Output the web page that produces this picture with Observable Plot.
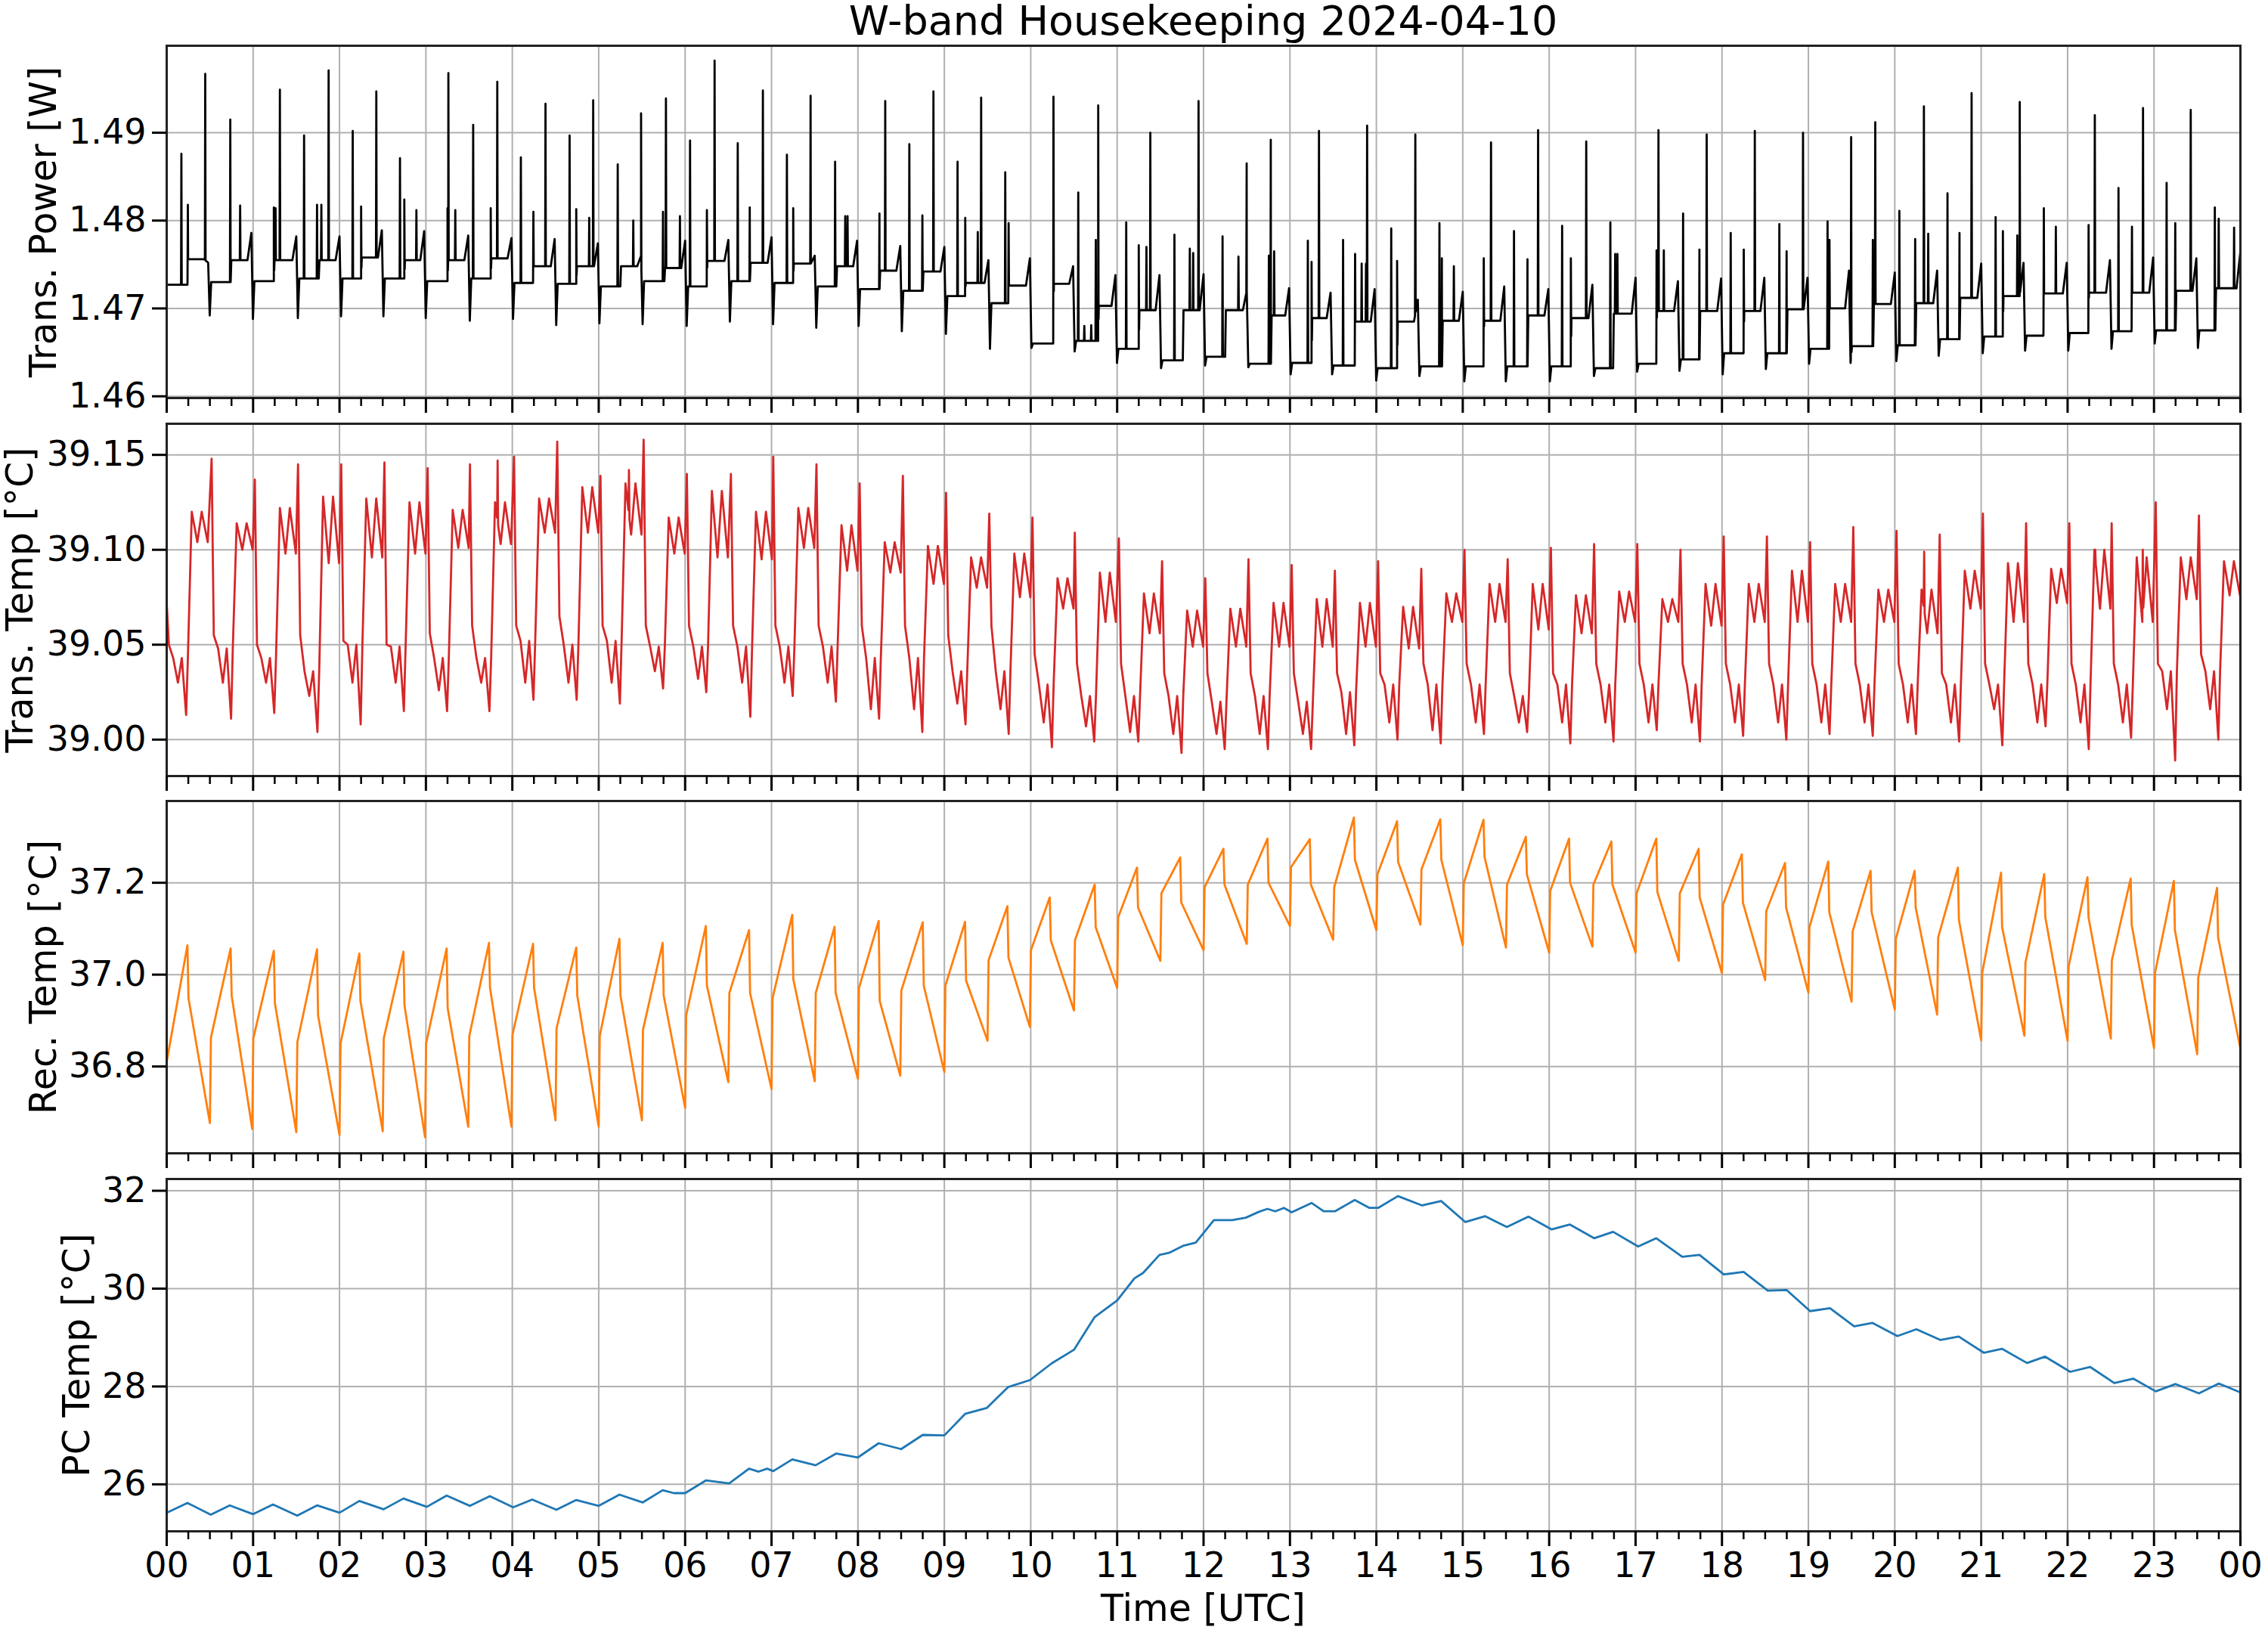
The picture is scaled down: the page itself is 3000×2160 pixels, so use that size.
<!DOCTYPE html>
<html>
<head>
<meta charset="utf-8">
<script src="https://cdn.jsdelivr.net/npm/d3@7"></script>
<script src="https://cdn.jsdelivr.net/npm/@observablehq/plot@0.6"></script>
<style>
  html, body { margin: 0; padding: 0; background: #fff; }
  #chart { position: relative; width: 3000px; height: 2160px; background: #fff;
           font-family: "DejaVu Sans", sans-serif; color: #000; }
  .txt { position: absolute; white-space: nowrap; line-height: 1; text-align: center; }
</style>
</head>
<body>
<div id="chart"></div>
<script>
// ---------------- DATA ----------------
const titleText = "W-band Housekeeping 2024-04-10";
const xLabel = "Time [UTC]";
const hourLabels = ["00","01","02","03","04","05","06","07","08","09","10","11",
                    "12","13","14","15","16","17","18","19","20","21","22","23","00"];

// Panel 1 - Trans. Power [W]
// rows: [jump to high level (h), high level, end of high phase (h), level at end, dip after drop, low level]
const powerStart = 1.4727;
const powerCycles = [
  [0.24,1.4756,0.48,1.4752,1.4692,1.4730],[0.74,1.4755,0.98,1.4786,1.4688,1.4731],
  [1.24,1.4755,1.50,1.4782,1.4689,1.4734],[1.76,1.4755,2.00,1.4782,1.4691,1.4734],
  [2.25,1.4758,2.49,1.4789,1.4691,1.4734],[2.75,1.4755,2.98,1.4788,1.4689,1.4731],
  [3.25,1.4755,3.49,1.4783,1.4686,1.4734],[3.75,1.4757,3.99,1.4780,1.4688,1.4729],
  [4.24,1.4748,4.49,1.4779,1.4681,1.4728],[4.74,1.4748,4.99,1.4774,1.4683,1.4725],
  [5.25,1.4748,5.49,1.4760,1.4682,1.4731],[5.76,1.4746,6.00,1.4777,1.4680,1.4725],
  [6.25,1.4754,6.50,1.4778,1.4685,1.4731],[6.75,1.4752,7.00,1.4781,1.4682,1.4729],
  [7.25,1.4751,7.50,1.4760,1.4678,1.4725],[7.75,1.4748,7.99,1.4777,1.4680,1.4722],
  [8.25,1.4743,8.49,1.4771,1.4674,1.4720],[8.75,1.4742,9.00,1.4770,1.4671,1.4714],
  [9.24,1.4729,9.51,1.4755,1.4654,1.4706],[9.74,1.4726,9.99,1.4757,1.4655,1.4660],
  [10.26,1.4728,10.49,1.4748,1.4651,1.4663],[10.78,1.4703,10.98,1.4738,1.4638,1.4654],
  [11.25,1.4698,11.49,1.4738,1.4632,1.4641],[11.76,1.4698,12.00,1.4739,1.4635,1.4645],
  [12.25,1.4698,12.50,1.4720,1.4633,1.4637],[12.78,1.4692,12.99,1.4723,1.4625,1.4638],
  [13.25,1.4689,13.47,1.4718,1.4625,1.4635],[13.75,1.4685,13.98,1.4722,1.4618,1.4632],
  [14.24,1.4685,14.48,1.4710,1.4623,1.4634],[14.76,1.4686,15.00,1.4719,1.4617,1.4634],
  [15.24,1.4686,15.48,1.4725,1.4617,1.4634],[15.75,1.4692,15.99,1.4722,1.4617,1.4634],
  [16.25,1.4689,16.50,1.4727,1.4623,1.4632],[16.74,1.4694,17.00,1.4735,1.4628,1.4637],
  [17.24,1.4697,17.49,1.4731,1.4629,1.4642],[17.74,1.4697,17.99,1.4734,1.4625,1.4649],
  [18.25,1.4697,18.49,1.4735,1.4631,1.4649],[18.75,1.4699,18.99,1.4735,1.4637,1.4654],
  [19.24,1.4700,19.47,1.4743,1.4638,1.4657],[19.75,1.4705,20.00,1.4741,1.4640,1.4658],
  [20.24,1.4706,20.49,1.4743,1.4646,1.4665],[20.75,1.4712,21.00,1.4751,1.4649,1.4668],
  [21.25,1.4714,21.49,1.4752,1.4652,1.4669],[21.72,1.4717,21.99,1.4752,1.4652,1.4672],
  [22.24,1.4718,22.49,1.4755,1.4654,1.4674],[22.74,1.4718,22.99,1.4758,1.4660,1.4675],
  [23.25,1.4720,23.49,1.4757,1.4655,1.4675],[23.71,1.4723,24.00,1.4765,null,null]
];
// single-sample spikes: [time (h), spike top]
const powerSpikes = [
  [0.17,1.4876],[0.245,1.4818],[0.446,1.4967],[0.736,1.4915],[0.85,1.4817],
  [1.24,1.4815],[1.26,1.4814],[1.31,1.4949],[1.59,1.4897],[1.74,1.4818],[1.79,1.4818],[1.874,1.4971],
  [2.153,1.4902],[2.25,1.4816],[2.426,1.4947],[2.70,1.4871],[2.75,1.4824],[2.89,1.4812],
  [3.25,1.4814],[3.26,1.4968],[3.34,1.4812],[3.547,1.4909],[3.75,1.4814],[3.826,1.4958],
  [4.099,1.4872],[4.244,1.4810],[4.384,1.4933],[4.663,1.4897],[4.74,1.4813],[4.89,1.4803],[4.936,1.4937],
  [5.22,1.4864],[5.40,1.4800],[5.49,1.4922],[5.744,1.4810],[5.778,1.4939],[5.94,1.4805],
  [6.057,1.4891],[6.252,1.4812],[6.341,1.4982],[6.609,1.4888],[6.748,1.4815],[6.90,1.4948],
  [7.178,1.4875],[7.251,1.4814],[7.452,1.4942],[7.736,1.4867],[7.853,1.4805],[7.88,1.4805],
  [8.249,1.4808],[8.316,1.4936],[8.595,1.4887],[8.746,1.4806],[8.874,1.4947],
  [9.153,1.4867],[9.242,1.4803],[9.387,1.4787],[9.426,1.4940],[9.705,1.4855],[9.744,1.4797],
  [10.263,1.4941],[10.55,1.4832],[10.62,1.4680],[10.70,1.4681],[10.753,1.4778],[10.781,1.4931],
  [11.105,1.4798],[11.25,1.4772],[11.339,1.4770],[11.384,1.4900],
  [11.663,1.4784],[11.841,1.4768],[11.88,1.4763],[11.942,1.4936],
  [12.22,1.4782],[12.404,1.4759],[12.499,1.4865],[12.756,1.4760],[12.778,1.4892],[12.817,1.4765],
  [13.207,1.4777],[13.25,1.4753],[13.336,1.4902],[13.615,1.4778],[13.754,1.4762],[13.83,1.4751],[13.88,1.4751],[13.893,1.4908],
  [14.172,1.4791],[14.24,1.4754],[14.451,1.4898],[14.73,1.4797],[14.758,1.4757],[14.897,1.4748],
  [15.243,1.4757],[15.327,1.4889],[15.593,1.4788],[15.749,1.4756],[15.872,1.4903],
  [16.15,1.4794],[16.251,1.4757],[16.429,1.4890],[16.708,1.4798],[16.764,1.4762],[16.79,1.4762],
  [17.243,1.4766],[17.265,1.4903],[17.327,1.4766],[17.55,1.4808],[17.739,1.4767],[17.823,1.4898],
  [18.101,1.4786],[18.252,1.4767],[18.38,1.4902],[18.664,1.4796],[18.748,1.4765],[18.938,1.4900],
  [19.222,1.4799],[19.244,1.4778],[19.495,1.4895],[19.746,1.4778],[19.774,1.4912],[20.053,1.4811],
  [20.236,1.4779],[20.337,1.4930],[20.387,1.4785],[20.61,1.4831],[20.749,1.4786],[20.889,1.4945],
  [21.167,1.4804],[21.251,1.4788],[21.418,1.4783],[21.446,1.4935],[21.725,1.4814],[21.864,1.4793],
  [22.243,1.4795],[22.315,1.4920],[22.589,1.4837],[22.745,1.4793],[22.873,1.4928],
  [23.146,1.4843],[23.246,1.4797],[23.425,1.4926],[23.704,1.4815],[23.749,1.4802],[23.927,1.4792]
];

// Panel 2 - Trans. Temp [°C]
// rows: [spike time, spike top, after drop, low upper, low lower, dip, high lower, high upper]
const transCycles = [
  [0.00,39.072,39.050,39.043,39.030,39.013,39.104,39.120],
  [0.52,39.148,39.055,39.048,39.030,39.011,39.100,39.114],
  [1.02,39.137,39.050,39.043,39.030,39.014,39.098,39.122],
  [1.52,39.145,39.055,39.036,39.023,39.004,39.093,39.128],
  [2.02,39.145,39.052,39.050,39.030,39.008,39.096,39.127],
  [2.52,39.146,39.050,39.049,39.030,39.015,39.098,39.125],
  [3.02,39.143,39.056,39.043,39.026,39.015,39.101,39.121],
  [3.51,39.145,39.060,39.043,39.030,39.015,39.103,39.125],
  [4.02,39.149,39.060,39.052,39.030,39.021,39.109,39.127],
  [4.52,39.157,39.065,39.050,39.030,39.021,39.109,39.133],
  [5.02,39.139,39.060,39.052,39.030,39.019,39.108,39.135],
  [5.52,39.158,39.060,39.049,39.036,39.027,39.098,39.117],
  [6.02,39.140,39.060,39.049,39.032,39.025,39.096,39.131],
  [6.53,39.140,39.060,39.049,39.030,39.012,39.095,39.120],
  [7.02,39.149,39.060,39.049,39.030,39.023,39.101,39.122],
  [7.52,39.145,39.060,39.049,39.030,39.020,39.089,39.113],
  [8.02,39.135,39.060,39.043,39.016,39.011,39.088,39.104],
  [8.52,39.139,39.060,39.043,39.016,39.004,39.082,39.102],
  [9.02,39.130,39.055,39.036,39.019,39.008,39.080,39.096],
  [9.52,39.119,39.060,39.036,39.016,39.003,39.075,39.098],
  [10.02,39.117,39.045,39.029,39.009,38.996,39.069,39.085],
  [10.51,39.109,39.040,39.023,39.007,38.999,39.062,39.088],
  [11.02,39.106,39.040,39.023,39.004,38.999,39.056,39.077],
  [11.52,39.094,39.035,39.023,39.003,38.993,39.049,39.068],
  [12.02,39.085,39.035,39.020,39.003,38.995,39.049,39.069],
  [12.52,39.095,39.035,39.023,39.003,38.995,39.049,39.072],
  [13.02,39.092,39.035,39.020,39.003,38.995,39.049,39.074],
  [13.52,39.089,39.035,39.025,39.003,38.997,39.049,39.072],
  [14.02,39.094,39.035,39.029,39.009,39.000,39.048,39.070],
  [14.52,39.090,39.040,39.029,39.005,38.998,39.062,39.077],
  [15.02,39.100,39.040,39.029,39.009,39.003,39.062,39.082],
  [15.52,39.095,39.035,39.023,39.009,39.004,39.058,39.082],
  [16.02,39.101,39.035,39.029,39.009,38.998,39.056,39.076],
  [16.52,39.103,39.040,39.029,39.009,38.999,39.062,39.078],
  [17.02,39.103,39.040,39.029,39.009,39.005,39.062,39.074],
  [17.52,39.100,39.040,39.029,39.009,38.999,39.060,39.082],
  [18.02,39.107,39.040,39.029,39.009,39.002,39.062,39.082],
  [18.52,39.107,39.040,39.029,39.009,39.000,39.062,39.089],
  [19.02,39.104,39.040,39.029,39.009,39.003,39.062,39.082],
  [19.52,39.112,39.040,39.029,39.009,39.002,39.062,39.079],
  [20.02,39.110,39.040,39.029,39.009,39.003,39.056,39.079],
  [20.52,39.108,39.035,39.029,39.009,38.999,39.069,39.089],
  [21.02,39.119,39.040,39.029,39.016,38.997,39.062,39.093],
  [21.52,39.114,39.040,39.029,39.009,39.007,39.072,39.090],
  [22.02,39.114,39.040,39.029,39.009,38.995,39.069,39.100],
  [22.51,39.114,39.040,39.029,39.009,39.001,39.062,39.096],
  [23.02,39.125,39.040,39.036,39.016,38.989,39.074,39.096],
  [23.52,39.118,39.045,39.036,39.016,39.000,39.076,39.094]
];
const transEnd = [24.0, 39.080];
const transSpikes = [[3.83,39.147],[5.35,39.142],[20.34,39.099],[22.32,39.100],[22.87,39.100]];

// Panel 3 - Rec. Temp [°C]
// rows: [peak time, peak, after drop, minimum time, minimum, after jump]
const recStart = [0.0, 36.81];
const recCycles = [
  [0.24,37.064,36.949,0.50,36.677,36.863],[0.74,37.057,36.954,0.99,36.664,36.861],
  [1.24,37.052,36.938,1.50,36.657,36.853],[1.74,37.055,36.911,2.00,36.651,36.850],
  [2.23,37.046,36.943,2.50,36.659,36.861],[2.74,37.050,36.933,2.99,36.646,36.850],
  [3.24,37.057,36.927,3.49,36.669,36.866],[3.73,37.069,36.971,3.99,36.669,36.869],
  [4.24,37.067,36.971,4.50,36.683,36.883],[4.74,37.059,36.954,5.00,36.669,36.866],
  [5.24,37.078,36.954,5.50,36.683,36.880],[5.74,37.069,36.954,6.00,36.710,36.911],
  [6.24,37.106,36.976,6.50,36.766,36.960],[6.74,37.097,36.960,7.00,36.751,36.949],
  [7.24,37.130,36.990,7.50,36.768,36.960],[7.73,37.104,36.960,8.00,36.773,36.971],
  [8.24,37.117,36.943,8.49,36.780,36.965],[8.75,37.114,36.976,9.00,36.788,36.976],
  [9.24,37.115,36.987,9.50,36.856,37.031],[9.73,37.149,37.037,9.99,36.886,37.053],
  [10.22,37.168,37.075,10.50,36.922,37.075],[10.74,37.196,37.103,11.00,36.971,37.125],
  [11.23,37.233,37.146,11.50,37.030,37.177],[11.73,37.255,37.157,12.00,37.053,37.190],
  [12.23,37.274,37.196,12.50,37.067,37.196],[12.74,37.296,37.200,13.00,37.106,37.234],
  [13.23,37.295,37.196,13.50,37.076,37.190],[13.74,37.342,37.250,14.00,37.097,37.218],
  [14.24,37.334,37.245,14.51,37.109,37.229],[14.74,37.338,37.250,15.00,37.064,37.199],
  [15.24,37.337,37.256,15.50,37.059,37.196],[15.73,37.300,37.218,16.00,37.048,37.182],
  [16.23,37.296,37.200,16.50,37.061,37.196],[16.72,37.290,37.196,17.00,37.048,37.177],
  [17.24,37.296,37.180,17.50,37.030,37.177],[17.73,37.274,37.168,18.00,37.003,37.152],
  [18.23,37.262,37.157,18.50,36.988,37.138],[18.73,37.243,37.146,19.00,36.961,37.103],
  [19.23,37.246,37.136,19.50,36.941,37.094],[19.72,37.226,37.136,20.00,36.924,37.078],
  [20.23,37.226,37.146,20.49,36.913,37.081],[20.73,37.233,37.119,21.00,36.857,37.004],
  [21.23,37.222,37.103,21.50,36.867,37.026],[21.73,37.219,37.125,22.00,36.856,37.018],
  [22.23,37.212,37.125,22.50,36.861,37.031],[22.73,37.209,37.108,23.00,36.840,37.004],
  [23.23,37.204,37.097,23.50,36.827,36.993],[23.73,37.189,37.081,24.00,36.839,null]
];

// Panel 4 - PC Temp [°C]
const pcTime = [0,0.24,0.51,0.73,1.0,1.23,1.51,1.74,2.0,2.23,2.51,2.74,3.01,3.24,3.51,3.74,4.01,4.23,4.51,4.74,
  5.0,5.24,5.51,5.74,5.87,6.0,6.24,6.51,6.74,6.85,6.95,7.02,7.24,7.51,7.75,8.0,8.24,8.5,8.75,9.0,
  9.24,9.49,9.74,9.99,10.24,10.5,10.74,11.0,11.2,11.3,11.49,11.6,11.77,11.91,12.12,12.33,12.49,12.64,12.74,12.83,
  12.93,13.02,13.25,13.39,13.52,13.75,13.92,14.02,14.25,14.53,14.75,15.03,15.26,15.51,15.76,16.03,16.24,16.52,16.74,17.03,
  17.24,17.54,17.74,18.02,18.25,18.53,18.75,19.02,19.25,19.53,19.74,20.03,20.25,20.53,20.74,21.03,21.24,21.53,21.74,22.03,
  22.26,22.54,22.76,23.02,23.25,23.52,23.75,24.0];
const pcTemp = [25.42,25.62,25.38,25.57,25.39,25.59,25.36,25.57,25.42,25.66,25.49,25.71,25.54,25.77,25.56,25.76,25.53,25.69,25.48,25.68,
  25.56,25.79,25.63,25.88,25.82,25.82,26.08,26.02,26.32,26.26,26.32,26.27,26.51,26.39,26.63,26.55,26.84,26.72,27.01,27.0,
  27.44,27.56,27.99,28.13,28.47,28.75,29.42,29.76,30.21,30.32,30.69,30.73,30.88,30.94,31.40,31.40,31.45,31.57,31.63,31.58,
  31.65,31.56,31.75,31.58,31.58,31.81,31.65,31.65,31.89,31.70,31.79,31.36,31.48,31.26,31.47,31.21,31.31,31.03,31.16,30.86,
  31.03,30.65,30.69,30.29,30.34,29.96,29.97,29.54,29.60,29.23,29.30,29.03,29.17,28.95,29.02,28.69,28.77,28.48,28.61,28.30,
  28.40,28.07,28.16,27.90,28.05,27.86,28.06,27.88];

// axis ticks
const hourTicks = hourLabels.map((_, i) => i);
const powerTicks = [1.46, 1.47, 1.48, 1.49];
const transTicks = [39.00, 39.05, 39.10, 39.15];
const recTicks = [36.8, 37.0, 37.2];
const pcTicks = [26, 28, 30, 32];

// ---------------- series assembly ----------------
function valueAt(pts, t) {
  const i = d3.bisector(d => d.t).right(pts, t) - 1;
  if (i < 0) return pts[0].v;
  if (i >= pts.length - 1) return pts[pts.length - 1].v;
  const a = pts[i], b = pts[i + 1];
  return a.v + (b.v - a.v) * (t - a.t) / (b.t - a.t);
}
function withSpikes(pts, spikes, half) {
  const extra = [];
  for (const [ts, top] of spikes) {
    extra.push({t: ts - half, v: valueAt(pts, ts - half)});
    extra.push({t: ts, v: top});
    extra.push({t: ts + half, v: valueAt(pts, ts + half)});
  }
  return pts.concat(extra).sort((a, b) => a.t - b.t);
}

const powerBase = [{t: 0, v: powerStart}];
{
  let low = powerStart;
  for (const [tj, hi, te, r, dip, lo] of powerCycles) {
    powerBase.push({t: tj, v: low}, {t: tj + 0.008, v: hi}, {t: te - 0.045, v: hi}, {t: te, v: r});
    if (dip != null) { powerBase.push({t: te + 0.018, v: dip}, {t: te + 0.035, v: lo}); low = lo; }
  }
}
const powerData = withSpikes(powerBase, powerSpikes, 0.004);

// each half-hour cycle of the transmitter temperature: spike, fall, low band, dip, rise, high band
const transBase = [];
for (const [ts, s, p, lh, ll, dip, hl, hh] of transCycles) {
  transBase.push(
    {t: ts, v: s}, {t: ts + 0.025, v: p},
    {t: ts + 0.075, v: lh}, {t: ts + 0.13, v: ll}, {t: ts + 0.175, v: lh},
    {t: ts + 0.225, v: dip}, {t: ts + 0.245, v: lh},
    {t: ts + 0.29, v: hh}, {t: ts + 0.355, v: hl}, {t: ts + 0.405, v: hh}, {t: ts + 0.475, v: hl});
}
transBase.push({t: transEnd[0], v: transEnd[1]});
const transData = withSpikes(transBase, transSpikes, 0.006);

const recData = [{t: recStart[0], v: recStart[1]}];
for (const [tp, pk, pd, tm, mn, pj] of recCycles) {
  recData.push({t: tp, v: pk}, {t: tp + 0.012, v: pd}, {t: tm, v: mn});
  if (pj != null) recData.push({t: tm + 0.012, v: pj});
}

const pcData = pcTime.map((t, i) => ({t, v: pcTemp[i]}));

// ---------------- layout ----------------
const W = 3000, ML = 220, MR = 37, PH = 466;
const chart = document.getElementById("chart");
const minorTicks = d3.range(0, 96).map(i => i / 4).filter(t => t % 1 !== 0);
const FONT = '"DejaVu Sans", sans-serif';

function panel({data, color, domain, ticks, fmt, label, labelDx, top, last}) {
  const mt = 10, mb = last ? 80 : 30;
  const svg = Plot.plot({
    width: W, height: mt + PH + mb,
    marginLeft: ML, marginRight: MR, marginTop: mt, marginBottom: mb,
    style: {fontFamily: FONT, color: "#000", background: "transparent", overflow: "visible", maxWidth: "none"},
    x: {domain: [0, 24]},
    y: {domain},
    marks: [
      Plot.gridX(hourTicks, {stroke: "#b0b0b0", strokeOpacity: 1, strokeWidth: 2}),
      Plot.gridY(ticks, {stroke: "#b0b0b0", strokeOpacity: 1, strokeWidth: 2}),
      Plot.line(data, {x: "t", y: "v", stroke: color, strokeWidth: 2.8}),
      Plot.frame({stroke: "#222", strokeWidth: 3}),
      Plot.axisY(ticks, {tickSize: 19, tickPadding: 8, fontSize: 46, tickFormat: fmt, label: null, strokeWidth: 3}),
      Plot.axisX(hourTicks, {tickSize: 20, tickPadding: 8, fontSize: 46, strokeWidth: 3, label: null,
        tickFormat: last ? (d => hourLabels[d]) : (() => "")}),
      Plot.axisX(minorTicks, {tickSize: 11, strokeWidth: 2.5, label: null, tickFormat: () => ""}),
      Plot.text([label], {text: d => d, frameAnchor: "left", textAnchor: "middle", lineAnchor: "middle",
        rotate: -90, dx: labelDx, fontSize: 49, fill: "#000"})
    ]
  });
  svg.style.position = "absolute";
  svg.style.left = "0px";
  svg.style.top = (top - mt) + "px";
  chart.appendChild(svg);
}

panel({data: powerData, color: "#000000", domain: [1.4598, 1.4999], ticks: powerTicks,
       fmt: d3.format(".2f"), label: "Trans. Power [W]", labelDx: -162, top: 60});
panel({data: transData, color: "#d62728", domain: [38.9808, 39.1664], ticks: transTicks,
       fmt: d3.format(".2f"), label: "Trans. Temp [°C]", labelDx: -193, top: 560});
panel({data: recData, color: "#ff7f0e", domain: [36.611, 37.378], ticks: recTicks,
       fmt: d3.format(".1f"), label: "Rec. Temp [°C]", labelDx: -162, top: 1059});
panel({data: pcData, color: "#1f77b4", domain: [25.04, 32.24], ticks: pcTicks,
       fmt: d3.format("d"), label: "PC Temp [°C]", labelDx: -118, top: 1559, last: true});

function addText(str, size, cx, baseline) {
  const el = document.createElement("div");
  el.className = "txt";
  el.textContent = str;
  el.style.fontSize = size + "px";
  el.style.left = (cx - 1000) + "px";
  el.style.width = "2000px";
  el.style.top = (baseline - 0.846 * size) + "px";
  chart.appendChild(el);
}
addText(titleText, 54, (ML + W - MR) / 2, 47);
addText(xLabel, 49, (ML + W - MR) / 2, 2144);
</script>
</body>
</html>
